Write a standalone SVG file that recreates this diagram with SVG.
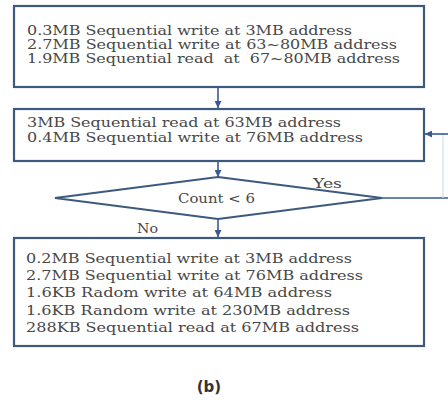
<svg xmlns="http://www.w3.org/2000/svg" width="448" height="400" viewBox="0 0 448 400">
<defs>
<marker id="ah" viewBox="0 0 10 10" refX="10" refY="5" markerWidth="7" markerHeight="7" orient="auto" markerUnits="userSpaceOnUse">
<path d="M0,0 L10,5 L0,10 z" fill="#3a5894"/>
</marker>
</defs>
<style>
.box{fill:#fff;stroke:#3d5a7e;stroke-width:2.2}
.t{font-family:"DejaVu Serif","Liberation Serif",serif;font-size:13px;fill:#474747;white-space:pre}
.c{stroke:#3a5894;stroke-width:1.6;fill:none}
.faint{stroke:#d3ddee;stroke-width:1.2;fill:none}
</style>
<rect width="448" height="400" fill="#fff"/>
<g id="connectors">
<line class="c" x1="218" y1="88" x2="218" y2="108" marker-end="url(#ah)"/>
<line class="c" x1="218" y1="162" x2="218" y2="177" marker-end="url(#ah)"/>
<line class="c" x1="218" y1="219" x2="218" y2="237" marker-end="url(#ah)"/>
<line class="c" x1="382" y1="198" x2="448" y2="198"/>
<line class="faint" x1="443" y1="134" x2="443" y2="198"/>
<line class="c" x1="448" y1="134" x2="425" y2="134" marker-end="url(#ah)"/>
<text class="t" x="313" y="188" textLength="29" lengthAdjust="spacingAndGlyphs">Yes</text>
<text class="t" x="137" y="233" textLength="21" lengthAdjust="spacingAndGlyphs">No</text>
</g>
<g id="box1">
<rect class="box" x="14" y="6" width="410" height="81"/>
<text class="t" x="27" y="35" textLength="325" lengthAdjust="spacingAndGlyphs">0.3MB Sequential write at 3MB address</text>
<text class="t" x="27" y="49" textLength="370" lengthAdjust="spacingAndGlyphs">2.7MB Sequential write at 63~80MB address</text>
<text class="t" x="27" y="63" textLength="373" lengthAdjust="spacingAndGlyphs">1.9MB Sequential read  at  67~80MB address</text>
</g>
<g id="box2">
<rect class="box" x="14" y="109" width="410" height="52"/>
<text class="t" x="27" y="127" textLength="314" lengthAdjust="spacingAndGlyphs">3MB Sequential read at 63MB address</text>
<text class="t" x="27" y="142" textLength="336" lengthAdjust="spacingAndGlyphs">0.4MB Sequential write at 76MB address</text>
</g>
<g id="decision">
<polygon points="218,177 382,198 218,219 55,198" fill="#fff" stroke="#3d5a7e" stroke-width="2.2"/>
<text class="t" x="178" y="203" textLength="77" lengthAdjust="spacingAndGlyphs">Count &lt; 6</text>
</g>
<g id="box3">
<rect class="box" x="14" y="238" width="410" height="108"/>
<text class="t" x="26" y="263" textLength="326" lengthAdjust="spacingAndGlyphs">0.2MB Sequential write at 3MB address</text>
<text class="t" x="26" y="280" textLength="337" lengthAdjust="spacingAndGlyphs">2.7MB Sequential write at 76MB address</text>
<text class="t" x="26" y="297" textLength="306" lengthAdjust="spacingAndGlyphs">1.6KB Radom write at 64MB address</text>
<text class="t" x="26" y="315" textLength="324" lengthAdjust="spacingAndGlyphs">1.6KB Random write at 230MB address</text>
<text class="t" x="26" y="332" textLength="333" lengthAdjust="spacingAndGlyphs">288KB Sequential read at 67MB address</text>
</g>
<text x="209" y="392" text-anchor="middle" style="font-family:'DejaVu Sans','Liberation Sans',sans-serif;font-size:15px;font-weight:bold;fill:#333">(b)</text>
</svg>
